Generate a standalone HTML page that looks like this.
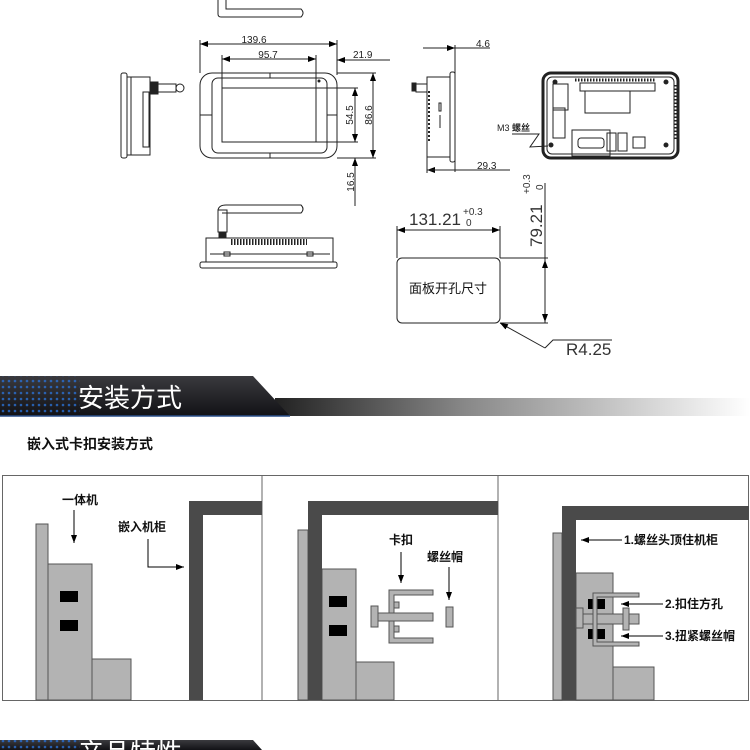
<!DOCTYPE html>
<html><head><meta charset="utf-8"><style>
html,body{margin:0;padding:0;background:#fff;}
body{width:750px;height:750px;overflow:hidden;position:relative;}
svg{position:absolute;left:0;top:0;}
text{font-family:"Liberation Sans","Noto Sans CJK SC",sans-serif;}
</style></head><body>
<svg width="750" height="750" viewBox="0 0 750 750" xmlns="http://www.w3.org/2000/svg">
<defs>
<marker id="a" markerWidth="8" markerHeight="6" refX="8" refY="3" orient="auto" markerUnits="userSpaceOnUse"><path d="M0,0 L8,3 L0,6 z" fill="#000"/></marker>
<marker id="as" markerWidth="8" markerHeight="6" refX="0" refY="3" orient="auto" markerUnits="userSpaceOnUse"><path d="M8,0 L0,3 L8,6 z" fill="#000"/></marker>
<linearGradient id="gb" x1="0" x2="1"><stop offset="0" stop-color="#222"/><stop offset="0.4" stop-color="#888"/><stop offset="1" stop-color="#fff"/></linearGradient>
<linearGradient id="dk" x1="0" y1="0" x2="0" y2="1"><stop offset="0" stop-color="#3a3a3e"/><stop offset="1" stop-color="#121216"/></linearGradient>
<pattern id="dots" width="6" height="6" patternUnits="userSpaceOnUse"><circle cx="3" cy="3" r="1.3" fill="#2a6fd0"/></pattern>
<linearGradient id="fade" x1="0" x2="1"><stop offset="0" stop-color="#fff" stop-opacity="0"/><stop offset="1" stop-color="#fff" stop-opacity="1"/></linearGradient>
</defs>

<g fill="none" stroke="#222" stroke-width="1">
<!-- top antenna -->
<path d="M218,0 L218,14 Q218,17 221,17 L301,17 Q305,13 301,9 L226,9 L226,0"/>
<!-- front view -->
<rect x="200" y="73" width="137" height="85" rx="12"/>
<rect x="212" y="78" width="115" height="75" rx="6"/>
<rect x="222" y="88" width="94" height="54"/>
<line x1="270" y1="73" x2="270" y2="78"/><line x1="270" y1="153" x2="270" y2="158"/>
<line x1="200" y1="115" x2="212" y2="115"/><line x1="327" y1="115" x2="337" y2="115"/>
<circle cx="319" cy="81" r="1" fill="#222"/>
<!-- dims -->
<line x1="200" y1="40" x2="200" y2="73"/><line x1="337" y1="40" x2="337" y2="75"/>
<line x1="200" y1="44" x2="337" y2="44" marker-start="url(#as)" marker-end="url(#a)"/>
<line x1="222" y1="55" x2="222" y2="88"/><line x1="316" y1="55" x2="316" y2="142"/>
<line x1="222" y1="59" x2="316" y2="59" marker-start="url(#as)" marker-end="url(#a)"/>
<line x1="390" y1="60" x2="337" y2="60" marker-end="url(#a)"/>
<line x1="316" y1="88" x2="358" y2="88"/><line x1="316" y1="142" x2="358" y2="142"/>
<line x1="355" y1="88" x2="355" y2="142" marker-start="url(#as)" marker-end="url(#a)"/>
<line x1="337" y1="73" x2="376" y2="73"/><line x1="337" y1="158" x2="376" y2="158"/>
<line x1="373" y1="73" x2="373" y2="158" marker-start="url(#as)" marker-end="url(#a)"/>
<line x1="355" y1="206" x2="355" y2="158" marker-end="url(#a)"/>
<!-- left side view -->
<rect x="121" y="73" width="6" height="85" rx="2"/>
<rect x="127" y="77" width="23" height="78"/>
<line x1="131" y1="77" x2="131" y2="155"/>
<rect x="143" y="92" width="6" height="55"/>
<rect x="150" y="82" width="8" height="12" fill="#222"/>
<rect x="158" y="84" width="18" height="8"/>
<circle cx="180" cy="88" r="4"/>
<!-- right side view -->
<rect x="412" y="83" width="4" height="8" fill="#222"/>
<rect x="416" y="84" width="11" height="8"/>
<rect x="427" y="77" width="23" height="80"/>
<rect x="450" y="72" width="5" height="90" rx="2"/>
<g stroke-width="2"><line x1="429" y1="91" x2="429" y2="143" stroke-dasharray="2,2"/></g>
<rect x="439" y="103" width="2" height="8"/><line x1="440" y1="115" x2="440" y2="128"/>
<line x1="455" y1="45" x2="455" y2="172"/>
<line x1="423" y1="48" x2="455" y2="48" marker-end="url(#a)"/>
<line x1="490" y1="48" x2="455" y2="48"/>
<line x1="427" y1="157" x2="427" y2="173"/>
<line x1="427" y1="170" x2="510" y2="170" marker-start="url(#as)"/>
<line x1="455" y1="170" x2="427" y2="170"/>
<!-- back view -->
<rect x="543" y="73" width="135" height="85" rx="8" stroke-width="3"/>
<rect x="547" y="77" width="127" height="77" rx="5"/>
<line x1="575" y1="80" x2="655" y2="80" stroke-width="3" stroke-dasharray="1.5,1.5"/>
<rect x="580" y="83" width="75" height="8"/>
<rect x="585" y="91" width="45" height="22"/>
<rect x="553" y="84" width="15" height="26"/>
<rect x="553" y="108" width="12" height="30"/>
<rect x="572" y="130" width="38" height="26"/>
<rect x="578" y="138" width="26" height="10" rx="3"/>
<rect x="607" y="133" width="9" height="18"/><rect x="618" y="133" width="9" height="18"/>
<rect x="633" y="137" width="12" height="11"/>
<line x1="675" y1="85" x2="675" y2="140" stroke-width="3" stroke-dasharray="1.5,2"/>
<circle cx="551" cy="145" r="2" fill="#222"/><circle cx="666" cy="145" r="2" fill="#222"/><circle cx="666" cy="82" r="2" fill="#222"/><circle cx="555" cy="82" r="2" fill="#222"/>
<path d="M512,134 L539,134 L530,147 L548,146"/>
<!-- bottom view -->
<rect x="218" y="210" width="9" height="22"/>
<rect x="219" y="232" width="7" height="6" fill="#222"/>
<path d="M222,213 L301,213 Q305,209 301,205 L226,205 Q219,205 218,210"/>
<rect x="206" y="238" width="127" height="24"/>
<line x1="231" y1="242" x2="307" y2="242" stroke-width="6" stroke-dasharray="1.5,1.5"/>
<rect x="200" y="262" width="137" height="6" rx="2"/>
<line x1="210" y1="254" x2="330" y2="254"/>
<rect x="224" y="252" width="6" height="4"/><rect x="307" y="252" width="6" height="4"/>
<!-- cutout -->
<rect x="397" y="258" width="103" height="65" rx="5"/>
<line x1="397" y1="226" x2="397" y2="258"/><line x1="500" y1="226" x2="500" y2="258"/>
<line x1="397" y1="230" x2="500" y2="230" marker-start="url(#as)" marker-end="url(#a)"/>
<line x1="500" y1="258" x2="548" y2="258"/><line x1="500" y1="323" x2="548" y2="323"/>
<line x1="545" y1="183" x2="545" y2="323"/>
<line x1="545" y1="260" x2="545" y2="322" marker-start="url(#as)" marker-end="url(#a)"/>
<path d="M545,348 L500,323" marker-end="url(#a)"/>
<path d="M545,348 L553,340 L612,340"/>
</g>
<g font-size="10" fill="#222">
<text x="254" y="43" text-anchor="middle">139.6</text>
<text x="268" y="58" text-anchor="middle">95.7</text>
<text x="353" y="58">21.9</text>
<text transform="translate(353,115) rotate(-90)" text-anchor="middle">54.5</text>
<text transform="translate(372,115) rotate(-90)" text-anchor="middle">86.6</text>
<text transform="translate(354,182) rotate(-90)" text-anchor="middle">16.5</text>
<text x="476" y="47">4.6</text>
<text x="477" y="169">29.3</text>
<text x="497" y="131" font-size="9">M3 <tspan font-weight="bold">螺丝</tspan></text>
</g>
<g fill="#333">
<text x="409" y="225" font-size="17">131.21</text>
<text x="463" y="215" font-size="10">+0.3</text><text x="466" y="226" font-size="10">0</text>
<text transform="translate(542,247) rotate(-90)" font-size="17">79.21</text>
<text transform="translate(530,194) rotate(-90)" font-size="10">+0.3</text>
<text transform="translate(543,190) rotate(-90)" font-size="10">0</text>
<text x="566" y="355" font-size="17">R4.25</text>
<text x="448" y="293" font-size="13" text-anchor="middle" fill="#111">面板开孔尺寸</text>
</g>

<!-- banner -->
<rect x="275" y="398" width="475" height="18" fill="url(#gb)"/>
<path d="M0,376 L253,376 L290,416 L0,416 z" fill="url(#dk)"/>
<rect x="0" y="376" width="80" height="40" fill="url(#dots)" opacity="0.8"/>
<rect x="0" y="376" width="80" height="40" fill="url(#dk)" opacity="0.0"/>
<line x1="0" y1="416" x2="290" y2="416" stroke="#2a4f8a" stroke-width="1.5"/>
<text x="78" y="407" font-size="26" fill="#fff">安装方式</text>
<text x="27" y="449" font-size="14" font-weight="bold" fill="#111">嵌入式卡扣安装方式</text>

<!-- install panels -->
<rect x="2.5" y="475.5" width="746" height="225" fill="#fff" stroke="#666"/>
<line x1="262" y1="476" x2="262" y2="700" stroke="#666"/>
<line x1="498" y1="476" x2="498" y2="700" stroke="#666"/>
<g stroke="#555" stroke-width="1" fill="#b3b3b3">
<!-- panel1 -->
<rect x="36" y="524" width="12" height="176"/>
<rect x="48" y="564" width="44" height="136"/>
<rect x="92" y="659" width="39" height="41"/>
<!-- panel2 -->
<rect x="298" y="530" width="10" height="170"/>
<rect x="322" y="569" width="34" height="131"/>
<rect x="356" y="662" width="38" height="38"/>
<!-- panel3 -->
<rect x="553" y="533" width="9" height="167"/>
<rect x="576" y="573" width="37" height="127"/>
<rect x="613" y="667" width="41" height="33"/>
</g>
<g fill="#4a4a4a">
<path d="M189,501 L262,501 L262,515 L203,515 L203,700 L189,700 z"/>
<path d="M308,501 L498,501 L498,515 L322,515 L322,700 L308,700 z"/>
<path d="M562,506 L749,506 L749,520 L576,520 L576,700 L562,700 z"/>
</g>
<g fill="#000">
<rect x="60" y="591" width="18" height="11"/><rect x="60" y="620" width="18" height="11"/>
<rect x="329" y="596" width="18" height="11"/><rect x="329" y="625" width="18" height="11"/>
<rect x="588" y="599" width="17" height="10"/><rect x="588" y="629" width="17" height="10"/>
</g>
<g stroke="#555" fill="#b3b3b3">
<!-- clip panel2 -->
<path d="M389,590 L433,590 L433,595 L394,595 L394,638 L433,638 L433,643 L389,643 z"/>
<rect x="378" y="613" width="55" height="8"/>
<rect x="371" y="606" width="7" height="21"/>
<rect x="394" y="602" width="5" height="6"/><rect x="394" y="626" width="5" height="6"/>
<rect x="446" y="607" width="7" height="20"/>
<!-- clip panel3 -->
<rect x="581" y="614" width="58" height="10"/>
<rect x="576" y="608" width="7" height="20"/>
<path d="M593,593 L639,593 L639,597 L597,597 L597,642 L639,642 L639,646 L593,646 z"/>
<rect x="623" y="608" width="6" height="22"/>
</g>
<g stroke="#000" stroke-width="1" fill="none">
<line x1="74" y1="510" x2="74" y2="543" marker-end="url(#a)"/>
<path d="M148,539 L148,567 L184,567" marker-end="url(#a)"/>
<line x1="401" y1="552" x2="401" y2="583" marker-end="url(#a)"/>
<line x1="449" y1="567" x2="449" y2="600" marker-end="url(#a)"/>
<line x1="622" y1="540" x2="581" y2="540" marker-end="url(#a)"/>
<line x1="663" y1="604" x2="621" y2="604" marker-end="url(#a)"/>
<line x1="663" y1="636" x2="621" y2="636" marker-end="url(#a)"/>
</g>
<g font-size="12" font-weight="bold" fill="#111">
<text x="62" y="504">一体机</text>
<text x="118" y="531">嵌入机柜</text>
<text x="389" y="544">卡扣</text>
<text x="427" y="561">螺丝帽</text>
<text x="624" y="544">1.螺丝头顶住机柜</text>
<text x="665" y="608">2.扣住方孔</text>
<text x="665" y="640">3.扭紧螺丝帽</text>
</g>

<!-- bottom banner -->
<path d="M0,740 L253,740 L262,750 L0,750 z" fill="url(#dk)"/>
<rect x="0" y="740" width="80" height="10" fill="url(#dots)" opacity="0.8"/>
<text x="78" y="762" font-size="26" fill="#fff">产品特性</text>
</svg>
</body></html>
